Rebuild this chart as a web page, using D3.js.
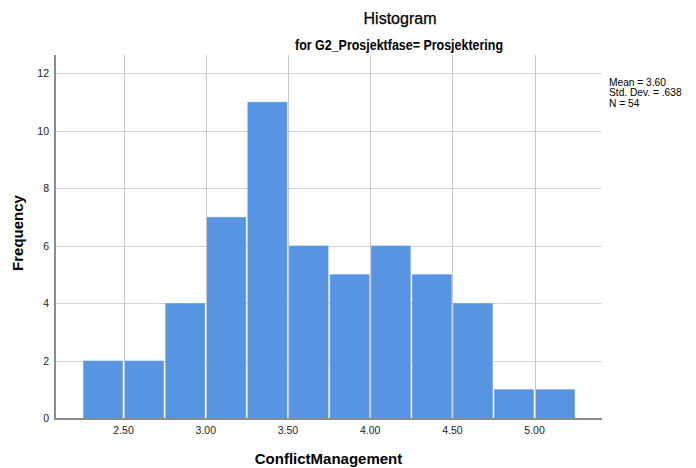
<!DOCTYPE html>
<html><head><meta charset="utf-8">
<script src="https://cdn.jsdelivr.net/npm/d3@7"></script>
<style>body{margin:0;background:#fff}svg{display:block}</style>
</head><body>
<svg id="c" width="696" height="468"></svg>
<script>
const binStarts = [2.25,2.50,2.75,3.00,3.25,3.50,3.75,4.00,4.25,4.50,4.75,5.00];
const binWidth = 0.25;
const counts = [2,2,4,7,11,6,5,6,5,4,1,1];
const xTicks = [2.5,3.0,3.5,4.0,4.5,5.0];
const yTicks = [0,2,4,6,8,10,12];
const statsLines = ["Mean = 3.60","Std. Dev. = .638","N = 54"];
const title = "Histogram";
const subtitle = "for G2_Prosjektfase= Prosjektering";
const xLabel = "ConflictManagement";
const yLabel = "Frequency";

const svg = d3.select("#c");
const L=55,R=602,T=55,B=418.5;
const x = d3.scaleLinear().domain([2.083,5.41]).range([L,R]);
const y = d3.scaleLinear().domain([0,12.64]).range([B,T]);
const sans = "'Liberation Sans',Arial,sans-serif";

// grid
svg.append("g").selectAll("line").data(yTicks.filter(d=>d>0)).join("line")
  .attr("x1",L).attr("x2",R).attr("y1",d=>Math.round(y(d))+0.5).attr("y2",d=>Math.round(y(d))+0.5)
  .attr("stroke","#d6d6d6").attr("stroke-width",1);
svg.append("g").selectAll("line").data(xTicks).join("line")
  .attr("x1",d=>Math.round(x(d))+0.5).attr("x2",d=>Math.round(x(d))+0.5).attr("y1",T).attr("y2",B)
  .attr("stroke","#c8c8c8").attr("stroke-width",1);

// bars
svg.append("g").selectAll("rect").data(binStarts).join("rect")
  .attr("x",(d)=>x(d)+1)
  .attr("width",d=>x(d+binWidth)-x(d)-2)
  .attr("y",(d,i)=>y(counts[i]))
  .attr("height",(d,i)=>B-y(counts[i]))
  .attr("fill","#5795e3")
  .attr("stroke","#6aa2e8").attr("stroke-width",0.6);

// vertical gridlines visible in gaps between bars
svg.append("g").selectAll("line").data(xTicks).join("line")
  .attr("x1",d=>Math.round(x(d))+0.5).attr("x2",d=>Math.round(x(d))+0.5)
  .attr("y1",d=>{const i=binStarts.findIndex(b=>Math.abs(b+binWidth-d)<1e-9);return y(Math.max(counts[i],counts[i+1]||0));})
  .attr("y2",B)
  .attr("stroke","#c8c8c8").attr("stroke-width",1);

// axes
const ax = svg.append("g").attr("stroke","#8c8c8c").attr("stroke-width",1.2).attr("shape-rendering","crispEdges");
ax.append("line").attr("x1",L).attr("x2",L).attr("y1",T).attr("y2",B+1);
ax.append("line").attr("x1",L).attr("x2",R).attr("y1",B+0.5).attr("y2",B+0.5);

// tick labels
svg.append("g").selectAll("text").data(yTicks).join("text")
  .attr("x",L-6).attr("y",d=>y(d)+3.8).attr("text-anchor","end")
  .attr("font-family",sans).attr("font-size",10.5).attr("fill","#222").text(d=>d);
svg.append("g").selectAll("text").data(xTicks).join("text")
  .attr("x",d=>x(d)).attr("y",434).attr("text-anchor","middle")
  .attr("font-family",sans).attr("font-size",10.5).attr("fill","#222").text(d=>d.toFixed(2));

// titles
svg.append("text").attr("x",400).attr("y",23.5).attr("text-anchor","middle")
  .attr("font-family",sans).attr("font-size",16).attr("fill","#000")
  .attr("stroke","#000").attr("stroke-width",0.25).text(title);
svg.append("text").attr("x",399).attr("y",50).attr("text-anchor","middle")
  .attr("font-family",sans).attr("font-weight","bold").attr("font-size",14.5).attr("fill","#000")
  .attr("textLength",208).attr("lengthAdjust","spacingAndGlyphs").text(subtitle);
svg.append("text").attr("x",(L+R)/2).attr("y",463.5).attr("text-anchor","middle")
  .attr("font-family",sans).attr("font-weight","bold").attr("font-size",15).attr("fill","#000").text(xLabel);
svg.append("text").attr("transform",`translate(23,233) rotate(-90)`).attr("text-anchor","middle")
  .attr("font-family",sans).attr("font-weight","bold").attr("font-size",15).attr("fill","#000").text(yLabel);

// stats
svg.append("g").selectAll("text").data(statsLines).join("text")
  .attr("x",609).attr("y",(d,i)=>85.5+i*10.5)
  .attr("font-family",sans).attr("font-size",10.2).attr("fill","#000").text(d=>d);
</script>
</body></html>
